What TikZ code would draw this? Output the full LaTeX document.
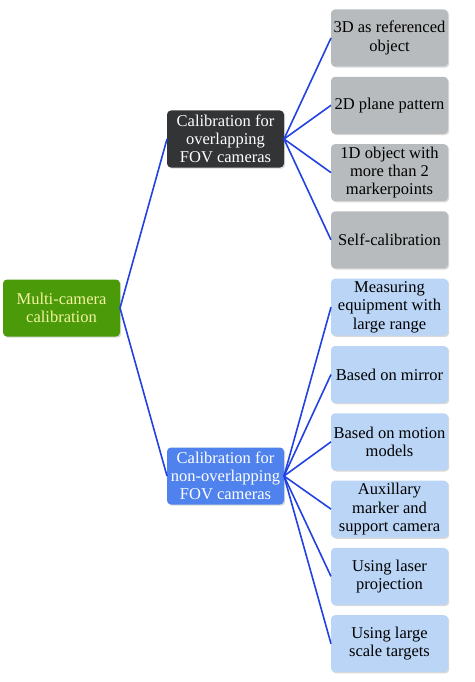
\documentclass[tikz,border=0pt]{standalone}
\usepackage{fontspec}
\setmainfont{Liberation Serif}
\usetikzlibrary{positioning,shadows}
\definecolor{treeGreen}{HTML}{4A9A0A}
\definecolor{treeDark}{HTML}{323436}
\definecolor{treeBlue}{HTML}{4F82EC}
\definecolor{leafGray}{HTML}{B7BBBD}
\definecolor{leafBlue}{HTML}{BAD5F6}
\definecolor{linkBlue}{HTML}{2142E0}
\definecolor{rootText}{HTML}{F4F4A0}

\begin{document}
\begin{tikzpicture}[
node distance=10.3pt and 10mm,
every node/.style={font=\fontsize{16.5}{18.3}\selectfont},
box/.style={rounded corners=4pt, align=center, inner sep=2pt, outer sep=0pt, minimum width=117pt, minimum height=57pt, drop shadow={opacity=0.3, shadow xshift=1.2pt, shadow yshift=-1.2pt}},
rootbox/.style={box, fill=treeGreen, text=rootText},
midD/.style={box, fill=treeDark, text=white},
midB/.style={box, fill=treeBlue, text=white},
leafG/.style={box, fill=leafGray},
leafB/.style={box, fill=leafBlue},
link/.style={draw=linkBlue, line width=1.6pt}
]
\useasboundingbox (0pt,0pt) rectangle (474pt,-682pt);

% Root and the two branches
\node[rootbox] (R) at (61.5pt,-308pt) {Multi-camera\\calibration};
\node[midD] (OV) at (225.5pt,-139pt) {Calibration for\\overlapping\\FOV cameras};
\node[midB] (NO) at (225.5pt,-476pt) {Calibration for\\non-overlapping\\FOV cameras};

% Leaves (overlapping FOV)
\node[leafG] (L1) at (389.5pt,-38pt) {3D as referenced\\object};
\node[leafG, below=of L1] (L2) {2D plane pattern};
\node[leafG, below=of L2] (L3) {1D object with\\more than 2\\markerpoints};
\node[leafG, below=of L3] (L4) {Self-calibration};

% Leaves (non-overlapping FOV)
\node[leafB, below=of L4] (L5) {Measuring\\equipment with\\large range};
\node[leafB, below=of L5] (L6) {Based on mirror};
\node[leafB, below=of L6] (L7) {Based on motion\\models};
\node[leafB, below=of L7] (L8) {Auxillary\\marker and\\support camera};
\node[leafB, below=of L8] (L9) {Using laser\\projection};
\node[leafB, below=of L9] (L10) {Using large\\scale targets};

% Connectors
\draw[link] (R.east) -- (OV.west);
\draw[link] (R.east) -- (NO.west);
\foreach \n in {L1,L2,L3,L4} \draw[link] (OV.east) -- (\n.west);
\foreach \n in {L5,L6,L7,L8,L9,L10} \draw[link] (NO.east) -- (\n.west);
\end{tikzpicture}
\end{document}
